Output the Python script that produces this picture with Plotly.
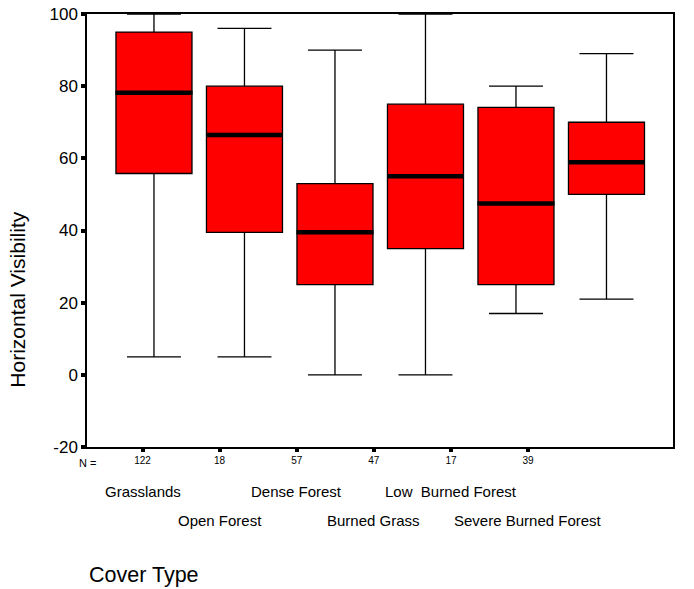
import plotly.graph_objects as go

categories = ["Grasslands", "Open Forest", "Dense Forest", "Burned Grass",
              "Low  Burned Forest", "Severe Burned Forest"]
n_counts = [122, 18, 57, 47, 17, 39]
lower = [5, 5, 0, 0, 17, 21]
q1 = [55.8, 39.5, 25, 35, 25, 50]
median = [78.2, 66.5, 39.5, 55, 47.5, 58.9]
q3 = [95, 80, 53, 75, 74.1, 70]
upper = [100, 96, 90, 100, 80, 89]
y_ticks = [100, 80, 60, 40, 20, 0, -20]
y_tick_text = ["100", "80", "60", "40", "20", "0", "-20"]

font = "Liberation Sans, Arial, sans-serif"
box_x = list(range(len(categories)))

fig = go.Figure()
fig.add_trace(go.Box(
    x=box_x, q1=q1, median=median, q3=q3,
    lowerfence=lower, upperfence=upper,
    width=0.84, whiskerwidth=0.71,
    fillcolor="#FF0000", line=dict(color="black", width=1.3),
    boxpoints=False, showlegend=False, hoverinfo="skip",
))
fig.add_trace(go.Scatter(
    x=box_x, y=median, mode="markers",
    marker=dict(symbol="line-ew", size=55, line=dict(color="black", width=4.5)),
    showlegend=False, hoverinfo="skip",
))
# invisible trace to anchor secondary category axis
fig.add_trace(go.Scatter(x=list(range(len(categories))), y=median, xaxis="x2",
                         mode="markers", marker=dict(opacity=0),
                         showlegend=False, hoverinfo="skip"))

fig.update_layout(
    width=694, height=589,
    margin=dict(l=87, r=21, t=14, b=142, autoexpand=False),
    paper_bgcolor="white", plot_bgcolor="white",
    font=dict(family=font, color="black"),
    xaxis=dict(range=[-0.74, 5.735], showticklabels=False, ticks="",
               showline=True, linecolor="black", linewidth=1.5, mirror=True,
               showgrid=False, zeroline=False, automargin=False),
    xaxis2=dict(range=[-0.72, 6.88], overlaying="x", side="bottom",
                tickmode="array", tickvals=list(range(len(categories))),
                ticktext=[str(n) for n in n_counts],
                ticks="outside", ticklen=4, tickwidth=4, tickcolor="black",
                tickfont=dict(size=10, family=font),
                showgrid=False, zeroline=False, showline=False, automargin=False),
    yaxis=dict(range=[-20, 100], tickmode="array", tickvals=y_ticks,
               ticktext=y_tick_text,
               ticks="outside", ticklen=4, tickwidth=4, tickcolor="black",
               tickfont=dict(size=17, family=font),
               showline=True, linecolor="black", linewidth=1.5, mirror=True,
               showgrid=False, zeroline=False, automargin=False),
)

annotations = [
    dict(text="N =", x=0, xref="paper", xanchor="center", y=-0.037, yref="paper",
         yanchor="middle", showarrow=False, font=dict(size=11, family=font)),
]
for i, c in enumerate(categories):
    annotations.append(dict(
        text=c, x=i, xref="x2", xanchor="center",
        y=-0.103 if i % 2 == 0 else -0.169, yref="paper", yanchor="middle",
        showarrow=False, font=dict(size=15, family=font)))
annotations.append(dict(text="Horizontal Visibility", textangle=-90,
                        x=-0.118, xref="paper", xanchor="center",
                        y=0.34, yref="paper", yanchor="middle",
                        showarrow=False, font=dict(size=21, family=font)))
annotations.append(dict(text="Cover Type", x=0.0, xref="paper", xanchor="left",
                        y=-0.295, yref="paper", yanchor="middle",
                        showarrow=False, font=dict(size=21.5, family=font)))
fig.update_layout(annotations=annotations)

fig.write_html("out.html", config={"displayModeBar": False},
               post_script="document.body.style.margin='0';")
